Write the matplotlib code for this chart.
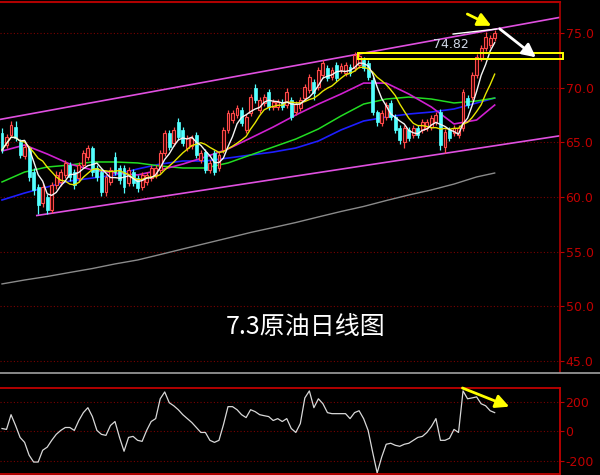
import numpy as np
import pandas as pd
import matplotlib
matplotlib.use('Agg')
import matplotlib.pyplot as plt
from matplotlib.patches import Rectangle

plt.rcParams['font.family'] = ['Noto Sans CJK SC', 'DejaVu Sans']

# ---------------- data ----------------
opens = [65.85, 64.75, 65.67, 66.40, 65.03, 63.75, 64.48, 62.28, 60.91, 59.45,
         60.00, 58.81, 61.09, 61.37, 62.01, 62.92, 62.28, 61.73, 62.92, 63.66,
         64.48, 62.65, 62.28, 60.45, 61.37, 63.66, 62.65, 62.65, 61.28, 62.28,
         61.73, 60.91, 61.37, 61.73, 62.01, 62.47, 64.02, 65.85, 64.94, 66.86,
         66.13, 64.48, 64.66, 65.67, 63.38, 64.11, 62.47, 64.02, 62.65, 64.30,
         66.13, 67.04, 67.50, 67.96, 66.13, 67.68, 69.97, 67.96, 68.60, 69.60,
         68.23, 68.23, 68.69, 68.41, 68.87, 67.77, 68.14, 69.05, 69.79, 70.52,
         70.06, 71.16, 71.80, 70.97, 72.07, 71.62, 71.34, 71.89, 71.80, 72.07,
         72.53, 72.26, 70.70, 67.77, 66.77, 67.31, 68.60, 67.31, 66.31, 65.03,
         66.13, 65.67, 66.31, 66.13, 66.31, 66.40, 66.86, 67.77, 64.57, 66.13,
         65.85, 65.67, 66.31, 69.05, 69.14, 71.16, 72.71, 73.63, 73.90, 74.54]
closes = [64.30, 65.49, 66.58, 65.39, 63.84, 64.57, 61.83, 60.64, 59.26, 60.91,
          58.81, 61.09, 62.01, 62.28, 63.11, 61.83, 61.09, 62.92, 64.02, 64.48,
          62.28, 61.83, 60.45, 61.83, 62.47, 62.28, 61.55, 60.91, 62.47, 61.28,
          60.82, 62.01, 62.01, 62.65, 62.65, 64.02, 65.85, 64.57, 66.13, 65.49,
          64.94, 65.39, 65.39, 63.84, 64.02, 62.47, 63.11, 62.28, 63.84, 66.13,
          67.68, 67.68, 68.14, 66.77, 67.31, 69.14, 68.87, 68.87, 69.14, 68.23,
          68.69, 68.69, 68.23, 69.60, 67.31, 68.50, 68.87, 70.06, 70.97, 69.51,
          71.62, 72.26, 70.88, 71.62, 70.88, 71.98, 72.07, 71.34, 72.99, 72.90,
          71.80, 70.97, 67.77, 66.86, 67.68, 68.41, 67.31, 66.13, 65.21, 66.31,
          65.39, 66.31, 65.67, 66.86, 66.86, 67.22, 67.50, 64.75, 65.94, 65.39,
          66.31, 66.31, 69.60, 68.41, 71.16, 72.80, 73.63, 74.63, 74.54, 75.00]
highs = [66.31, 65.76, 66.95, 66.95, 65.30, 64.84, 64.66, 62.65, 61.19, 61.28,
         60.27, 61.37, 62.37, 62.56, 63.38, 63.20, 62.56, 63.20, 64.30, 64.75,
         64.66, 62.92, 62.56, 62.01, 62.74, 64.11, 62.92, 62.92, 62.74, 62.56,
         62.01, 62.28, 62.28, 62.92, 62.92, 64.30, 66.13, 66.13, 66.40, 67.22,
         66.40, 65.67, 65.67, 65.94, 64.30, 64.39, 63.38, 64.30, 64.11, 66.40,
         67.96, 67.96, 68.41, 68.23, 67.59, 69.42, 70.33, 69.14, 69.42, 69.88,
         68.96, 68.96, 68.96, 69.97, 69.14, 68.78, 69.14, 70.33, 71.25, 70.79,
         71.89, 72.53, 72.07, 71.89, 72.35, 72.26, 72.35, 72.16, 73.26, 73.26,
         72.80, 72.53, 70.97, 67.96, 67.96, 68.69, 68.87, 67.59, 66.58, 66.58,
         66.40, 66.58, 66.58, 67.13, 67.13, 67.50, 67.77, 68.05, 66.22, 66.40,
         66.58, 66.58, 69.88, 69.33, 71.43, 73.08, 73.90, 75.09, 74.82, 75.27]
lows = [64.02, 64.48, 65.49, 65.12, 63.56, 63.47, 61.46, 60.18, 58.44, 59.08,
        58.44, 58.53, 60.73, 61.00, 61.73, 61.46, 60.73, 61.37, 62.65, 63.38,
        61.92, 61.46, 60.09, 60.09, 61.09, 62.01, 61.19, 60.36, 61.00, 61.00,
        60.45, 60.64, 61.09, 61.46, 61.73, 62.19, 63.75, 64.30, 64.66, 65.21,
        64.66, 64.20, 64.39, 63.56, 63.11, 62.19, 62.19, 62.01, 62.37, 64.02,
        65.85, 66.77, 67.22, 66.49, 65.85, 67.41, 68.60, 67.68, 68.32, 67.96,
        67.96, 67.96, 67.96, 68.14, 67.04, 67.50, 67.86, 68.78, 69.51, 68.87,
        69.79, 70.88, 70.61, 70.70, 70.61, 71.34, 71.07, 71.07, 71.52, 71.80,
        71.52, 70.70, 67.50, 66.49, 66.49, 67.04, 67.04, 65.85, 64.84, 64.48,
        65.12, 65.39, 65.39, 65.85, 66.03, 66.13, 66.58, 64.30, 64.02, 65.12,
        65.58, 65.39, 66.03, 68.14, 68.87, 70.88, 72.44, 73.35, 73.63, 74.27]

# longer moving averages, read at every 5th bar
ma_idx = [0, 5, 10, 15, 20, 25, 30, 35, 40, 45, 50, 55, 60, 65, 70, 75, 80, 85,
          90, 95, 100, 105, 109]
ma_magenta = [64.20, 64.75, 63.93, 63.01, 62.47, 62.19, 62.01, 62.47, 63.01, 63.66,
              64.39, 65.39, 66.40, 67.50, 68.50, 69.42, 70.42, 70.42, 69.42, 68.23,
              66.68, 67.04, 68.41]
ma_green = [61.37, 62.28, 62.74, 62.92, 63.20, 63.20, 63.11, 62.83, 62.65, 62.65,
            63.11, 63.84, 64.57, 65.30, 66.22, 67.41, 68.50, 68.96, 69.14, 68.96,
            68.60, 68.78, 69.05]
ma_blue = [59.72, 60.36, 60.91, 61.46, 61.73, 62.01, 62.56, 63.01, 63.29, 63.29,
           63.56, 63.84, 64.11, 64.48, 65.12, 66.13, 66.95, 67.31, 67.59, 67.77,
           68.05, 68.60, 69.05]
ma_gray = [52.04, 52.40, 52.72, 53.09, 53.45, 53.87, 54.23, 54.73, 55.24, 55.74,
           56.24, 56.75, 57.20, 57.66, 58.17, 58.67, 59.13, 59.67, 60.18, 60.64,
           61.18, 61.83, 62.19]

cci = [20, 14, 115, 41, -41, -75, -163, -210, -210, -129,
       -108, -61, -20, 7, 27, 27, 7, 75, 129, 163,
       102, 7, -20, -27, 41, 68, -41, -136, -41, -34,
       -61, -68, 7, 68, 88, 224, 271, 197, 176, 149,
       115, 88, 61, 27, -7, -7, -61, -75, -61, 47,
       170, 170, 149, 115, 95, 149, 136, 115, 108, 102,
       75, 88, 68, 88, 20, -7, 54, 230, 278, 163,
       224, 190, 129, 122, 122, 122, 122, 88, 129, 142,
       88, 7, -142, -285, -176, -88, -81, -95, -102, -88,
       -81, -61, -41, -34, -7, 34, 88, -61, -61, -47,
       14, -7, 278, 224, 230, 237, 190, 176, 142, 129]

price_ticks = [45, 50, 55, 60, 65, 70, 75]
cci_ticks = [-200, 0, 200]

# drawn trend lines / annotations (bar index, price)
upper_channel_x = [-0.5, 123.5]
upper_channel_y = [67.09, 76.44]
lower_channel_x = [7.7, 123.5]
lower_channel_y = [58.30, 65.60]
box_x = [78.8, 124.1]
box_y = [72.62, 73.17]
high_line_x = [99.8, 109.5]
high_line_y = [74.91, 75.37]
high_label = "74.82"
title = "7.3原油日线图"

# ---------------- figure ----------------
fig = plt.figure(figsize=(6, 4.75), dpi=100, facecolor='black')
ax = fig.add_axes([0, 103 / 475, 560 / 600, 370 / 475], facecolor='black')
ax2 = fig.add_axes([0, 1 / 475, 560 / 600, 86 / 475], facecolor='black')

n = len(closes)
x = np.arange(n)
o = np.array(opens); c = np.array(closes); h = np.array(highs); l = np.array(lows)
up = c >= o

RED = '#ff4a4a'
CYAN = '#54ffff'
ax.vlines(x[up], l[up], h[up], color=RED, lw=0.9, zorder=3)
ax.vlines(x[~up], l[~up], h[~up], color=CYAN, lw=0.9, zorder=3)
bw = 0.64
ax.bar(x[up], c[up] - o[up], bottom=o[up], width=bw, facecolor='#3a0000',
       edgecolor=RED, lw=0.8, zorder=4)
ax.bar(x[~up], o[~up] - c[~up], bottom=c[~up], width=bw, facecolor=CYAN,
       edgecolor=CYAN, lw=0.5, zorder=4)

s = pd.Series(closes)
ma5 = s.rolling(5, min_periods=1).mean()
ma10 = s.rolling(10, min_periods=1).mean()
ax.plot(ma_idx, ma_gray, color='#8a8a8a', lw=1.0, zorder=2)
ax.plot(ma_idx, ma_blue, color='#1e1eff', lw=1.2, zorder=2)
ax.plot(ma_idx, ma_green, color='#22dd22', lw=1.1, zorder=2)
ax.plot(ma_idx, ma_magenta, color='#d020d0', lw=1.2, zorder=2)
ax.plot(x, ma10, color='#e6e600', lw=1.0, zorder=5)
ax.plot(x, ma5, color='#f4f4f4', lw=1.0, zorder=5)

# channel
ax.plot(upper_channel_x, upper_channel_y, color='#e050e0', lw=1.2, zorder=2)
ax.plot(lower_channel_x, lower_channel_y, color='#e050e0', lw=1.2, zorder=2)

# grid
for t in price_ticks:
    ax.axhline(t, color='#7a0000', lw=0.8, ls=(0, (1, 2)), zorder=1)

ax.set_xlim(-0.442, 123.45)
ax.set_ylim(43.98, 77.84)
ax.yaxis.tick_right()
ax.set_yticks(price_ticks)
ax.set_yticklabels([f'{t:.1f}' for t in price_ticks], family='DejaVu Sans')
ax.tick_params(axis='y', colors='#c00000', labelsize=9, length=3, pad=1)
ax.set_xticks([])
for sp in ['left', 'bottom']:
    ax.spines[sp].set_visible(False)
ax.spines['right'].set_color('#b00000')
ax.spines['top'].set_color('#b00000')
ax.spines['right'].set_linewidth(1.2)
ax.spines['top'].set_linewidth(1.5)

# annotations
ax.add_patch(Rectangle((box_x[0], box_y[0]), box_x[1] - box_x[0], box_y[1] - box_y[0],
                       fill=False, edgecolor='#ffff00', lw=1.4, clip_on=False, zorder=6))
ax.plot(high_line_x, high_line_y, color='white', lw=1.0, zorder=6)
ax.text(99.3, 73.99, high_label, color='#d0d8e6', fontsize=9, ha='center', va='center',
        family='DejaVu Sans', zorder=7)
ax.annotate('', xy=(108.8, 75.55), xytext=(102.4, 76.85),
            arrowprops=dict(arrowstyle='-|>,head_length=0.8,head_width=0.4',
                            color='#ffff00', lw=2.0), zorder=7)
ax.annotate('', xy=(118.6, 72.62), xytext=(109.6, 75.55),
            arrowprops=dict(arrowstyle='-|>,head_length=0.8,head_width=0.4',
                            color='white', lw=2.0), zorder=7)
ax.text(0.545, 0.122, title, transform=ax.transAxes, color='white', fontsize=18,
        ha='center', va='center', zorder=7)

# ---------------- CCI panel ----------------
ax2.plot(x, cci, color='#d8d8d8', lw=0.9)
for t in cci_ticks:
    ax2.axhline(t, color='#7a0000', lw=0.8, ls=(0, (1, 2)), zorder=1)
ax2.set_xlim(-0.442, 123.45)
ax2.set_ylim(-292, 298)
ax2.yaxis.tick_right()
ax2.set_yticks(cci_ticks)
ax2.set_yticklabels([str(t) for t in cci_ticks], family='DejaVu Sans')
ax2.tick_params(axis='y', colors='#c00000', labelsize=9, length=3, pad=1)
ax2.set_xticks([])
ax2.spines['left'].set_visible(False)
for sp in ['right', 'top', 'bottom']:
    ax2.spines[sp].set_color('#c00000')
    ax2.spines[sp].set_linewidth(1.3)
ax2.annotate('', xy=(112.8, 163), xytext=(101.3, 305),
             arrowprops=dict(arrowstyle='-|>,head_length=0.8,head_width=0.4',
                             color='#ffff00', lw=2.0), annotation_clip=False)

# separator line
fig.add_artist(plt.Line2D([0, 1], [1 - 372.5 / 475] * 2, transform=fig.transFigure,
                          color='#a0a0a0', lw=1.2))

fig.savefig('out.png', dpi=100, facecolor='black')
